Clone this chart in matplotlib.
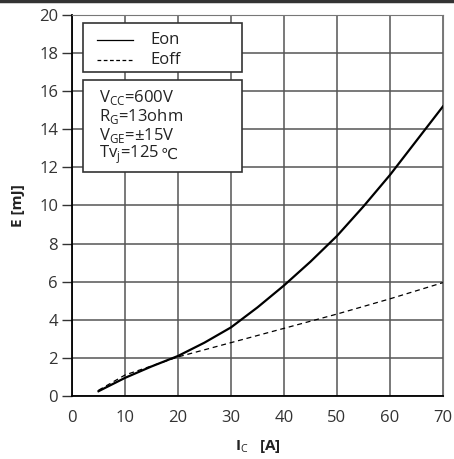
import matplotlib
matplotlib.use("Agg")
import matplotlib.pyplot as plt
from matplotlib.patches import Rectangle
from matplotlib.lines import Line2D

plt.rcParams['font.family'] = ['Open Sans', 'DejaVu Sans']
plt.rcParams['mathtext.fontset'] = 'custom'
plt.rcParams['mathtext.rm'] = 'Open Sans'

# values
ic = [5, 10, 15, 20, 25, 30, 35, 40, 45, 50, 55, 60, 65, 70]
eon = [0.25, 0.95, 1.55, 2.1, 2.8, 3.6, 4.65, 5.8, 7.05, 8.4, 9.95, 11.6, 13.4, 15.2]
ic_off = [5, 10, 20, 30, 40, 50, 60, 70]
eoff = [0.3, 1.1, 2.05, 2.8, 3.55, 4.3, 5.1, 5.95]

params = [r'V$_{\mathrm{CC}}$=600V', r'R$_{\mathrm{G}}$=13ohm',
          r'V$_{\mathrm{GE}}$=±15V', r'Tv$_{\mathrm{j}}$=125']

fig = plt.figure(figsize=(4.54, 4.59), dpi=100)
ax = fig.add_axes([0.1586, 0.1373, 0.817, 0.830])

ax.plot(ic, eon, color='black', lw=1.6)
ax.plot(ic_off, eoff, color='black', lw=0.9, ls=(0, (4, 3)))

ax.set_xlim(0, 70)
ax.set_ylim(0, 20)
ax.set_xticks(range(0, 71, 10))
ax.set_yticks(range(0, 21, 2))
ax.grid(True, color='#555555', lw=1.1)
ax.tick_params(axis='y', direction='out', length=7, width=1, color='#333333',
               labelsize=12, labelcolor='#333333', pad=3)
ax.tick_params(axis='x', length=0, labelsize=12, labelcolor='#333333', pad=10)
for s in ['top', 'right']:
    ax.spines[s].set_color('#777777')
for s in ['left', 'bottom']:
    ax.spines[s].set_color('black')
    ax.spines[s].set_linewidth(1.3)

ax.set_xlabel(r'I$_{\mathrm{C}}$   [A]', fontsize=11, fontweight='bold', labelpad=9,
              color='#222222')
ax.set_ylabel('E [mJ]', fontsize=11, fontweight='bold', labelpad=10, color='#222222')

# legend box
ax.add_patch(Rectangle((0.0296, 0.850), 0.428, 0.129, transform=ax.transAxes,
                       facecolor='white', edgecolor='#333333', lw=1.2, zorder=5))
ax.add_artist(Line2D([0.067, 0.164], [0.935, 0.935], transform=ax.transAxes,
                     color='black', lw=0.9, zorder=6))
ax.add_artist(Line2D([0.067, 0.164], [0.882, 0.882], transform=ax.transAxes,
                     color='black', lw=0.9, ls=(0, (3, 2)), zorder=6))
ax.text(0.21, 0.935, 'Eon', transform=ax.transAxes, fontsize=12, va='center',
        color='#222222', zorder=6)
ax.text(0.21, 0.882, 'Eoff', transform=ax.transAxes, fontsize=12, va='center',
        color='#222222', zorder=6)

# parameter box
ax.add_patch(Rectangle((0.0296, 0.588), 0.428, 0.241, transform=ax.transAxes,
                       facecolor='white', edgecolor='#333333', lw=1.2, zorder=5))
for i, p in enumerate(params):
    t = ax.text(0.072, 0.783 - i * 0.05, p, transform=ax.transAxes, fontsize=12,
                va='center', color='#222222', zorder=6)
ax.annotate('℃', xy=(1, 0.5), xycoords=t, va='center', ha='left', fontsize=11,
            family='DejaVu Sans', color='#222222', zorder=6,
            xytext=(1, 0), textcoords='offset points')

fig.add_artist(Line2D([0, 1], [0.997, 0.997], transform=fig.transFigure,
                      color='#333333', lw=2.5))

fig.savefig('out.png', dpi=100)
